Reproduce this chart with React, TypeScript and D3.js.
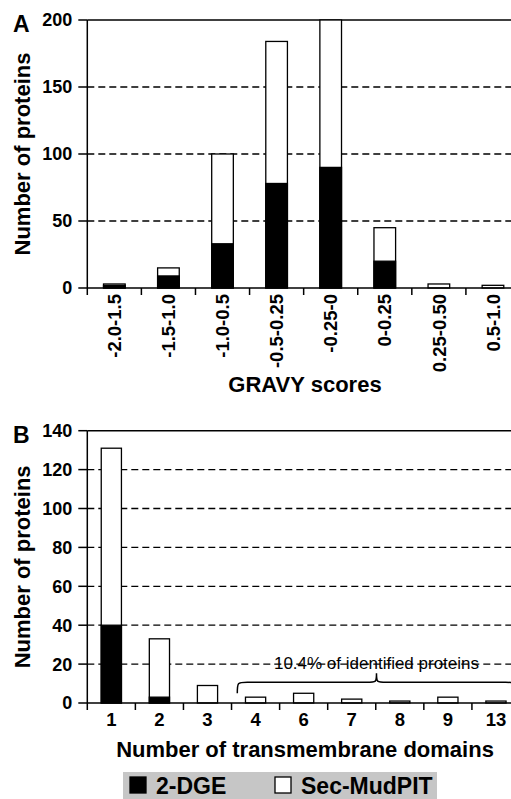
import React, { useEffect, useRef } from 'react'
import * as d3 from 'd3'

// panel A: GRAVY score bins
const gravyCats = ['-2.0-1.5', '-1.5-1.0', '-1.0-0.5', '-0.5-0.25', '-0.25-0', '0-0.25', '0.25-0.50', '0.5-1.0']
const gravyDGE = [2, 9, 33, 78, 90, 20, 0, 0]
const gravyTotal = [3, 15, 100, 184, 200, 45, 3, 2]
const gravyTicks = [0, 50, 100, 150, 200]

// panel B: transmembrane domains
const tmCats = ['1', '2', '3', '4', '6', '7', '8', '9', '13']
const tmDGE = [40, 3, 0, 0, 0, 0, 0, 0, 0]
const tmTotal = [131, 33, 9, 3, 5, 2, 1, 3, 1]
const tmTicks = [0, 20, 40, 60, 80, 100, 120, 140]

const legendItems = ['2-DGE', 'Sec-MudPIT']

const FONT = '"Liberation Sans", Arial, Helvetica, sans-serif'

type PanelOpts = {
  letter: string
  cats: string[]
  dge: number[]
  total: number[]
  ticks: number[]
  top: number
  bottom: number
  pad: number
  rotate: boolean
  xTitle: string
  xTitleY: number
}

const drawPanel = (svg: d3.Selection<SVGSVGElement, unknown, null, undefined>, o: PanelOpts) => {
  const left = 87.3
  const right = 520
  const max = o.ticks[o.ticks.length - 1]
  const y = d3.scaleLinear().domain([0, max]).range([o.bottom, o.top])
  const edges = d3.scaleBand().domain(o.cats).range([left, right]).padding(0)
  const x = d3.scaleBand().domain(o.cats).range([left, right]).paddingInner(o.pad).paddingOuter(o.pad / 2)
  const g = svg.append('g')

  // gridlines
  g.selectAll('line.grid')
    .data(o.ticks.filter((t) => t > 0 && t < max))
    .enter()
    .append('line')
    .attr('x1', left)
    .attr('x2', right)
    .attr('y1', (d) => y(d))
    .attr('y2', (d) => y(d))
    .attr('stroke', '#000')
    .attr('stroke-width', 1.3)
    .attr('stroke-dasharray', '7,4')

  // top line
  g.append('line').attr('x1', left).attr('x2', right).attr('y1', y(max)).attr('y2', y(max))
    .attr('stroke', '#000').attr('stroke-width', 1.5)

  const idx = o.cats.map((_, i) => i)
  // white (total) bars
  g.selectAll('rect.tot')
    .data(idx)
    .enter()
    .append('rect')
    .attr('x', (i) => x(o.cats[i]) as number)
    .attr('width', x.bandwidth())
    .attr('y', (i) => y(o.total[i]))
    .attr('height', (i) => y(0) - y(o.total[i]))
    .attr('fill', '#fff')
    .attr('stroke', '#000')
    .attr('stroke-width', 1.3)
  // black (2-DGE) bars
  g.selectAll('rect.dge')
    .data(idx.filter((i) => o.dge[i] > 0))
    .enter()
    .append('rect')
    .attr('x', (i) => x(o.cats[i]) as number)
    .attr('width', x.bandwidth())
    .attr('y', (i) => y(o.dge[i]))
    .attr('height', (i) => y(0) - y(o.dge[i]))
    .attr('fill', '#000')
    .attr('stroke', '#000')
    .attr('stroke-width', 1.3)

  // y axis
  g.append('line').attr('x1', left).attr('x2', left).attr('y1', y(max)).attr('y2', y(0) + 7)
    .attr('stroke', '#000').attr('stroke-width', 1.5)
  g.selectAll('line.yt')
    .data(o.ticks)
    .enter()
    .append('line')
    .attr('x1', left - 9)
    .attr('x2', left)
    .attr('y1', (d) => y(d))
    .attr('y2', (d) => y(d))
    .attr('stroke', '#000')
    .attr('stroke-width', 1.5)
  g.selectAll('text.yl')
    .data(o.ticks)
    .enter()
    .append('text')
    .attr('x', left - 15)
    .attr('y', (d) => y(d))
    .attr('dy', '0.36em')
    .attr('text-anchor', 'end')
    .attr('font-size', 18)
    .attr('font-weight', 'bold')
    .attr('font-family', FONT)
    .text((d) => d)

  // x axis
  g.append('line').attr('x1', left).attr('x2', right).attr('y1', y(0)).attr('y2', y(0))
    .attr('stroke', '#000').attr('stroke-width', 1.5)
  g.selectAll('line.xt')
    .data(o.cats.slice(1))
    .enter()
    .append('line')
    .attr('x1', (d) => edges(d) as number)
    .attr('x2', (d) => edges(d) as number)
    .attr('y1', y(0))
    .attr('y2', y(0) + 7)
    .attr('stroke', '#000')
    .attr('stroke-width', 1.5)

  const cx = (d: string) => (x(d) as number) + x.bandwidth() / 2
  if (o.rotate) {
    g.selectAll('text.xl')
      .data(o.cats)
      .enter()
      .append('text')
      .attr('transform', (d) => `translate(${cx(d)},${y(0) + 6}) rotate(-90)`)
      .attr('dy', '0.36em')
      .attr('text-anchor', 'end')
      .attr('font-size', 18.5)
      .attr('font-weight', 'bold')
      .attr('font-family', FONT)
      .text((d) => d)
  } else {
    g.selectAll('text.xl')
      .data(o.cats)
      .enter()
      .append('text')
      .attr('x', (d) => cx(d))
      .attr('y', y(0) + 23)
      .attr('text-anchor', 'middle')
      .attr('font-size', 18.5)
      .attr('font-weight', 'bold')
      .attr('font-family', FONT)
      .text((d) => d)
  }

  // titles
  g.append('text')
    .attr('transform', `translate(30,${(y(0) + y(max)) / 2}) rotate(-90)`)
    .attr('text-anchor', 'middle')
    .attr('font-size', 22)
    .attr('font-weight', 'bold')
    .attr('font-family', FONT)
    .text('Number of proteins')
  g.append('text')
    .attr('x', 305)
    .attr('y', o.xTitleY)
    .attr('text-anchor', 'middle')
    .attr('font-size', 22)
    .attr('font-weight', 'bold')
    .attr('font-family', FONT)
    .text(o.xTitle)
  g.append('text')
    .attr('x', 13)
    .attr('y', y(max) + 12)
    .attr('font-size', 23)
    .attr('font-weight', 'bold')
    .attr('font-family', FONT)
    .text(o.letter)

  return { x, y }
}

const App = () => {
  const ref = useRef<SVGSVGElement>(null)

  useEffect(() => {
    if (!ref.current) return
    const svg = d3.select(ref.current)
    svg.selectAll('*').remove()

    drawPanel(svg, {
      letter: 'A',
      cats: gravyCats,
      dge: gravyDGE,
      total: gravyTotal,
      ticks: gravyTicks,
      top: 20,
      bottom: 288,
      pad: 0.6,
      rotate: true,
      xTitle: 'GRAVY scores',
      xTitleY: 392,
    })

    const { x, y } = drawPanel(svg, {
      letter: 'B',
      cats: tmCats,
      dge: tmDGE,
      total: tmTotal,
      ticks: tmTicks,
      top: 430.7,
      bottom: 703,
      pad: 0.58,
      rotate: false,
      xTitle: 'Number of transmembrane domains',
      xTitleY: 757,
    })

    // brace over the 4+ domain bars
    const step = x.step()
    const bx0 = (x('4') as number) - step * 0.17
    const bx1 = (x('13') as number) + x.bandwidth() + step * 0.2
    const mid = (bx0 + bx1) / 2
    const yb = y(5)
    const yh = yb - 11
    const yp = yb - 20
    const r = 10
    const brace = `M${bx0},${yb} C${bx0},${yh} ${bx0},${yh} ${bx0 + r},${yh} L${mid - r},${yh} C${mid},${yh} ${mid},${yh} ${mid},${yp} C${mid},${yh} ${mid},${yh} ${mid + r},${yh} L${bx1 - r},${yh} C${bx1},${yh} ${bx1},${yh} ${bx1},${yb}`
    svg.append('path').attr('d', brace).attr('fill', 'none').attr('stroke', '#000').attr('stroke-width', 1.5)
    svg.append('text')
      .attr('x', mid)
      .attr('y', y(20) + 5)
      .attr('text-anchor', 'middle')
      .attr('font-size', 17)
      .attr('font-family', FONT)
      .text('10.4% of identified proteins')

    // legend
    const lg = svg.append('g')
    lg.append('rect').attr('x', 123).attr('y', 772).attr('width', 314).attr('height', 30).attr('fill', '#c6c6c6')
    const lx = [130, 275]
    legendItems.forEach((name, i) => {
      lg.append('rect')
        .attr('x', lx[i])
        .attr('y', 777)
        .attr('width', 16)
        .attr('height', 16)
        .attr('fill', i === 0 ? '#000' : '#fff')
        .attr('stroke', '#000')
        .attr('stroke-width', 1.3)
      lg.append('text')
        .attr('x', lx[i] + 26)
        .attr('y', 794)
        .attr('font-size', 23)
        .attr('font-weight', 'bold')
        .attr('font-family', FONT)
        .text(name)
    })
  }, [])

  return (
    <div style={{ position: 'absolute', left: 0, top: 0 }}>
      <svg ref={ref} width={511} height={799} style={{ display: 'block', background: '#fff' }} />
    </div>
  )
}

export default App
